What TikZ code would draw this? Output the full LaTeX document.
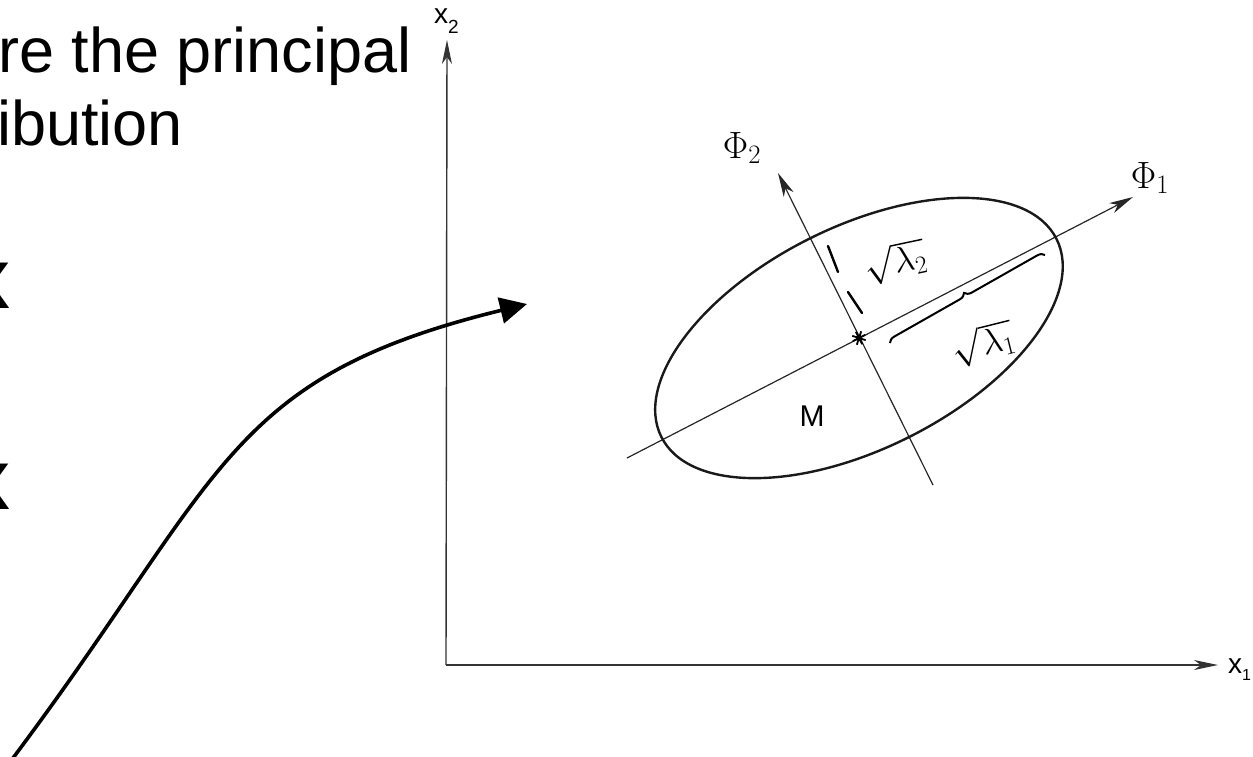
\RequirePackage{fix-cm}
\documentclass[tikz,border=0pt]{standalone}
\usepackage{fontspec}
\setmainfont{Liberation Sans}
\usetikzlibrary{arrows.meta,decorations.pathreplacing}
\begin{document}
\begin{tikzpicture}[x=1pt,y=-1pt,
  slide/.style={font=\fontsize{63}{63}\selectfont, inner sep=0pt, anchor=base west},
  bigx/.style={font=\bfseries\fontsize{86}{86}\selectfont, inner sep=0pt, anchor=base west},
  axisline/.style={draw=black!80, line width=1.4pt, -{Stealth[length=24pt,width=10pt,inset=7pt]}},
  pcline/.style={draw=black!85, line width=1.2pt},
  pcarrow/.style={pcline, -{Stealth[length=24pt,width=11pt,inset=7pt]}},
  ell/.style={draw=black!90, line width=2.4pt},
  axlabel/.style={font=\fontsize{28}{28}\selectfont, inner sep=0pt, anchor=base west},
  phlabel/.style={font=\fontsize{38}{38}\selectfont, inner sep=0pt},
  lamlabel/.style={font=\fontsize{36}{36}\selectfont, inner sep=0pt},
  hand/.style={draw=black, line width=2.4pt, line cap=round},
  pointer/.style={draw=black, line width=3.6pt, -{Triangle[length=27pt,width=26pt]}}
]
\useasboundingbox (0,0) rectangle (1253,756);

% slide text (cut off at the left edge)
\node[slide] (t1) at (-2,72) {re the principal};
\node[slide] (t2) at (-3,145) {ibution};
\node[bigx] (k1) at (-38,308) {x};
\node[bigx] (k2) at (-38,509) {x};

% axes
\coordinate (O) at (446,665);
\coordinate (X2) at (447,40);
\coordinate (X1) at (1218,665);
\draw[axisline] (O) -- (X2);
\draw[axisline] (O) -- (X1);
\node[axlabel] (x2lab) at (434,23) {x\raisebox{-10pt}{\fontsize{19}{19}\selectfont 2}};
\node[axlabel] (x1lab) at (1228,673) {x\raisebox{-7pt}{\fontsize{16}{16}\selectfont 1}};

% principal axes and ellipse
\coordinate (C) at (859,338);
\coordinate (P1a) at (627,458);
\coordinate (P1b) at (1133,197);
\coordinate (P2a) at (933,485);
\coordinate (P2b) at (778,173);
\draw[pcarrow] (P1a) -- (P1b);
\draw[pcarrow] (P2a) -- (P2b);
\draw[ell, rotate around={26.6:(C)}] (C) ellipse [x radius=221, y radius=111];
\node[phlabel] (phi1) at (1150,178) {$\Phi_1$};
\node[phlabel] (phi2) at (742,148) {$\Phi_2$};

% centre mark
\begin{scope}[shift={(C)}, rotate=27]
  \draw[line width=1.8pt] (-7,0) -- (7,0) (0,-7) -- (0,7) (-5,-5) -- (5,5) (-5,5) -- (5,-5);
\end{scope}
\node[font=\fontsize{30}{30}\selectfont, inner sep=0pt] (M) at (812,416) {M};

% lambda_2 dimension
\draw[hand] (828,246) -- (838,272);
\draw[hand] (848,292) -- (862,313);
\node[lamlabel, rotate=12] (l2) at (895,262) {$\sqrt{\lambda_2}$};

% lambda_1 brace
\coordinate (B1) at (890,343);
\coordinate (B2) at (1045,255);
\draw[decorate, decoration={brace, amplitude=7pt}, line width=2pt] (B1) -- (B2);
\node[lamlabel, rotate=14] (l1) at (983,344) {$\sqrt{\lambda_1}$};

% big pointer arrow
\coordinate (S) at (13,758);
\coordinate (E) at (527,304);
\draw[pointer] (S) .. controls (225,475) and (225,378) .. (E);
\end{tikzpicture}
\end{document}
